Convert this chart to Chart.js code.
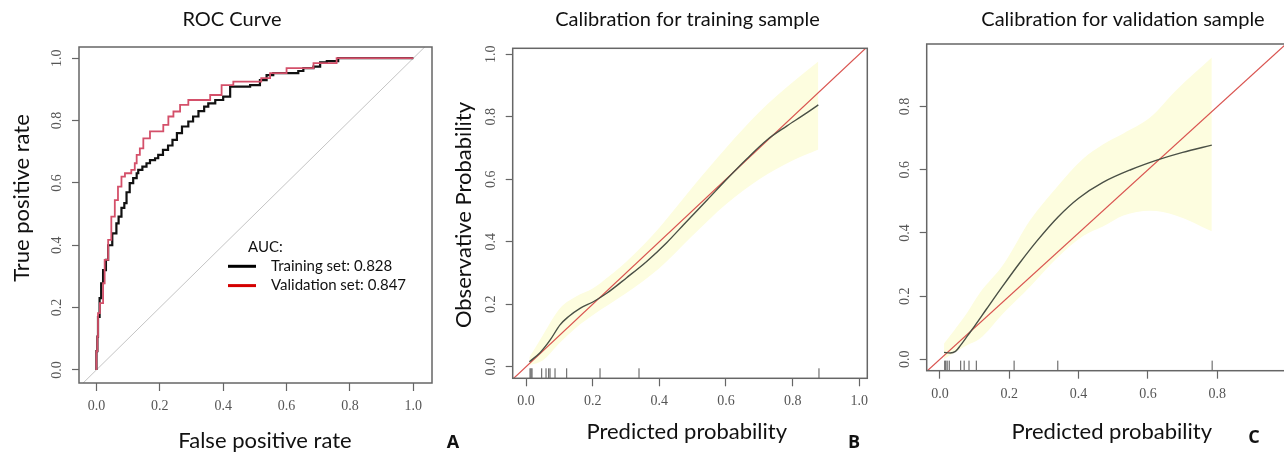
<!DOCTYPE html>
<html>
<head>
<meta charset="utf-8">
<script src="https://cdn.jsdelivr.net/npm/chart.js@4.4.1/dist/chart.umd.min.js"></script>
<style>
  html, body { margin: 0; padding: 0; background: #fff; overflow: hidden; }
  #wrap { position: relative; width: 1284px; height: 454px; overflow: hidden; }
  canvas { position: absolute; top: 0; }
</style>
</head>
<body>
<div id="wrap">
  <canvas id="rocChart" width="470" height="454" style="left:0px"></canvas>
  <canvas id="calTrainChart" width="440" height="454" style="left:440px"></canvas>
  <canvas id="calValidChart" width="450" height="454" style="left:870px"></canvas>
</div>
<script>
// ---- panel A: ROC curves (each point = start of a flat step) ----
const trainFpr = [0, 0.003, 0.005, 0.01, 0.015, 0.021, 0.03, 0.037, 0.05, 0.063, 0.07, 0.079, 0.088, 0.095, 0.105, 0.116, 0.127, 0.132, 0.145, 0.158, 0.169, 0.185, 0.195, 0.21, 0.226, 0.24, 0.254, 0.27, 0.29, 0.305, 0.322, 0.34, 0.353, 0.375, 0.40, 0.422, 0.485, 0.516, 0.537, 0.558, 0.637, 0.653, 0.685, 0.706, 0.727, 0.763, 0.937, 1.0];
const trainTpr = [0, 0.06, 0.107, 0.17, 0.23, 0.278, 0.32, 0.353, 0.40, 0.438, 0.47, 0.492, 0.52, 0.535, 0.57, 0.599, 0.615, 0.631, 0.642, 0.652, 0.663, 0.673, 0.679, 0.69, 0.706, 0.72, 0.738, 0.76, 0.781, 0.797, 0.813, 0.83, 0.845, 0.855, 0.866, 0.877, 0.909, 0.914, 0.930, 0.946, 0.952, 0.959, 0.968, 0.973, 0.987, 0.991, 1.0, 1.0];
const validFpr = [0, 0.003, 0.005, 0.011, 0.021, 0.026, 0.037, 0.047, 0.058, 0.068, 0.079, 0.09, 0.11, 0.121, 0.127, 0.137, 0.148, 0.169, 0.211, 0.227, 0.243, 0.264, 0.29, 0.359, 0.395, 0.432, 0.52, 0.548, 0.60, 0.685, 0.758, 0.984, 1.0];
const validTpr = [0, 0.06, 0.107, 0.182, 0.214, 0.278, 0.353, 0.417, 0.492, 0.545, 0.588, 0.62, 0.631, 0.642, 0.663, 0.69, 0.711, 0.743, 0.765, 0.786, 0.813, 0.829, 0.85, 0.866, 0.882, 0.914, 0.925, 0.936, 0.952, 0.968, 0.984, 1.0, 1.0];
const aucLabels = ['Training set: 0.828', 'Validation set: 0.847'];
const refLine = [-0.2, 1.2];

// ---- panel B: calibration for training sample ----
const calTrainX = [0.01, 0.042, 0.072, 0.102, 0.127, 0.162, 0.202, 0.242, 0.302, 0.362, 0.422, 0.482, 0.542, 0.602, 0.662, 0.722, 0.782, 0.832, 0.877];
const calTrainY = [0.016, 0.045, 0.085, 0.134, 0.16, 0.187, 0.208, 0.235, 0.285, 0.337, 0.397, 0.465, 0.532, 0.6, 0.665, 0.725, 0.77, 0.805, 0.838];
const bandTrainX = [0.01, 0.05, 0.1, 0.15, 0.2, 0.25, 0.3, 0.4, 0.5, 0.6, 0.7, 0.8, 0.877];
const bandTrainUpper = [0.03, 0.10, 0.185, 0.225, 0.25, 0.29, 0.335, 0.445, 0.575, 0.70, 0.815, 0.91, 0.977];
const bandTrainLower = [0.005, 0.02, 0.075, 0.125, 0.165, 0.20, 0.235, 0.315, 0.42, 0.52, 0.60, 0.66, 0.695];
const rugTrain = [0.012, 0.015, 0.018, 0.047, 0.06, 0.068, 0.072, 0.087, 0.122, 0.222, 0.339, 0.879];

// ---- panel C: calibration for validation sample ----
const calValidX = [0.012, 0.03, 0.045, 0.06, 0.08, 0.1, 0.135, 0.18, 0.23, 0.28, 0.34, 0.4, 0.47, 0.55, 0.63, 0.7, 0.784];
const calValidY = [0.022, 0.02, 0.025, 0.045, 0.075, 0.105, 0.16, 0.23, 0.305, 0.375, 0.45, 0.51, 0.56, 0.60, 0.632, 0.655, 0.678];
const bandValidX = [0.012, 0.04, 0.08, 0.115, 0.183, 0.26, 0.337, 0.413, 0.47, 0.529, 0.606, 0.68, 0.784];
const bandValidUpper = [0.05, 0.09, 0.15, 0.21, 0.30, 0.44, 0.545, 0.635, 0.68, 0.715, 0.765, 0.85, 0.955];
const bandValidLower = [0.0, 0.02, 0.045, 0.065, 0.146, 0.23, 0.32, 0.39, 0.42, 0.455, 0.47, 0.455, 0.405];
const rugValid = [0.014, 0.017, 0.021, 0.027, 0.06, 0.07, 0.084, 0.105, 0.214, 0.34, 0.785];

const tickValues = [0, 0.2, 0.4, 0.6, 0.8, 1.0];

function pts(xs, ys) {
    return xs.map((x, i) => ({ x: x, y: ys[i] }))
}

// text drawn at fixed spots of each panel (titles, axis names, letters)
const panelText = {
    id: 'panelText',
    afterDraw(chart, args, opts) {
        const ctx = chart.ctx;
        (opts.items || []).forEach(it => {
            ctx.save();
            ctx.font = (it.bold ? 'bold ' : '') + it.size + 'px ' + (it.family || 'Lato');
            ctx.fillStyle = it.color || '#111';
            ctx.textAlign = it.align || 'center';
            ctx.textBaseline = 'middle';
            ctx.translate(it.x, it.y);
            if (it.rotate) ctx.rotate(it.rotate * Math.PI / 180);
            ctx.fillText(it.text, 0, 0);
            ctx.restore();
        });
    }
};

// R style box round the plot region
const plotBox = {
    id: 'plotBox',
    afterDatasetsDraw(chart) {
        const a = chart.chartArea;
        const ctx = chart.ctx;
        ctx.save();
        ctx.strokeStyle = '#666';
        ctx.lineWidth = 1.5;
        ctx.strokeRect(a.left, a.top, a.right - a.left, a.bottom - a.top);
        ctx.restore();
    }
};

// legend inside the ROC plot
const aucLegend = {
    id: 'aucLegend',
    afterDraw(chart, args, o) {
        if (!o.title) return;
        const ctx = chart.ctx;
        ctx.save();
        ctx.font = '15px Lato';
        ctx.textBaseline = 'middle';
        ctx.fillStyle = '#111';
        ctx.fillText(o.title, o.x + 20, o.y);
        chart.data.datasets.filter(d => d.keyColor).forEach((d, i) => {
            const y = o.y + o.gap * (i + 1);
            ctx.strokeStyle = d.keyColor;
            ctx.lineWidth = 3;
            ctx.beginPath();
            ctx.moveTo(o.x, y);
            ctx.lineTo(o.x + 28, y);
            ctx.stroke();
            ctx.fillText(d.label, o.x + 43, y);
        });
        ctx.restore();
    }
};

function xAxis(min, max, height, maxTick) {
    return {
        type: 'linear', min: min, max: max,
        afterBuildTicks: s => { s.ticks = tickValues.filter(v => v <= maxTick).map(v => ({ value: v })) },
        afterFit: s => { s.height = height },
        grid: { drawOnChartArea: false, drawTicks: true, tickLength: 8, tickColor: '#666', tickWidth: 1.2 },
        border: { display: false },
        ticks: {
            color: '#555', padding: 7,
            font: { family: 'Liberation Serif', size: 14 },
            maxRotation: 0, minRotation: 0,
            callback: v => v.toFixed(1)
        }
    }
}

function yAxis(min, max, width, maxTick) {
    return {
        type: 'linear', min: min, max: max,
        afterBuildTicks: s => { s.ticks = tickValues.filter(v => v <= maxTick).map(v => ({ value: v })) },
        afterFit: s => { s.width = width },
        grid: { drawOnChartArea: false, drawTicks: true, tickLength: 7, tickColor: '#666', tickWidth: 1.2 },
        border: { display: false },
        ticks: {
            color: '#555', padding: 6, crossAlign: 'center',
            font: { family: 'Liberation Serif', size: 14 },
            minRotation: 90, maxRotation: 90,
            callback: v => v.toFixed(1)
        }
    }
}

function baseOptions(padding, scales, items) {
    return {
        responsive: false,
        animation: false,
        events: [],
        layout: { padding: padding },
        scales: scales,
        plugins: {
            legend: { display: false },
            tooltip: { enabled: false },
            panelText: { items: items }
        }
    }
}

// panel A
const rocOptions = baseOptions(
    { left: 0, top: 47, right: 38, bottom: 0 },
    { x: xAxis(-0.055, 1.059, 71, 1), y: yAxis(-0.042, 1.036, 79, 1) },
    [
        { text: 'ROC Curve', x: 232, y: 20, size: 20 },
        { text: 'True positive rate', x: 22, y: 198, size: 22, rotate: -90 },
        { text: 'False positive rate', x: 265, y: 441, size: 22 },
        { text: 'A', x: 453, y: 443, size: 18, bold: true, family: 'Open Sans' }
    ]
);
rocOptions.plugins.aucLegend = { title: 'AUC:', x: 228, y: 247, gap: 19.3 };

new Chart(document.getElementById('rocChart'), {
    type: 'line',
    data: {
        datasets: [
            {
                label: aucLabels[0], data: pts(trainFpr, trainTpr), stepped: 'after',
                borderColor: '#111', borderWidth: 2.2, pointRadius: 0, keyColor: '#000', order: 1
            },
            {
                label: aucLabels[1], data: pts(validFpr, validTpr), stepped: 'after',
                borderColor: '#d4506a', borderWidth: 1.8, pointRadius: 0, keyColor: '#d40000', order: 0
            },
            {
                label: 'reference', data: pts(refLine, refLine),
                borderColor: '#c4c4c4', borderWidth: 1, pointRadius: 0, order: 2
            }
        ]
    },
    options: rocOptions,
    plugins: [panelText, plotBox, aucLegend]
});

// calibration panel
function buildCalibration(canvasId, curveX, curveY, bandX, upper, lower, rug, yMin, options) {
    new Chart(document.getElementById(canvasId), {
        type: 'line',
        data: {
            datasets: [
                {
                    label: 'calibration', data: pts(curveX, curveY), cubicInterpolationMode: 'monotone',
                    borderColor: '#4a5046', borderWidth: 1.4, pointRadius: 0
                },
                {
                    label: 'ideal', data: pts(refLine, refLine),
                    borderColor: '#d9534f', borderWidth: 1.2, pointRadius: 0
                },
                {
                    type: 'scatter', label: 'rug', data: rug.map(x => ({ x: x, y: yMin + 0.016 })),
                    pointStyle: 'line', rotation: 90, pointRadius: 5, borderColor: '#555', borderWidth: 1
                },
                {
                    label: 'upper', data: pts(bandX, upper), cubicInterpolationMode: 'monotone',
                    borderWidth: 0, pointRadius: 0, fill: '+1', backgroundColor: '#fdfddf'
                },
                {
                    label: 'lower', data: pts(bandX, lower), cubicInterpolationMode: 'monotone',
                    borderWidth: 0, pointRadius: 0, fill: false
                }
            ]
        },
        options: options,
        plugins: [panelText, plotBox]
    });
}

// panel B
buildCalibration('calTrainChart', calTrainX, calTrainY, bandTrainX, bandTrainUpper, bandTrainLower, rugTrain, -0.037,
    baseOptions(
        { left: 0, top: 48.3, right: 12.7, bottom: 0 },
        { x: xAxis(-0.04, 1.024, 75.7, 1), y: yAxis(-0.037, 1.019, 72.7, 1) },
        [
            { text: 'Calibration for training sample', x: 247.5, y: 20, size: 20 },
            { text: 'Observative Probability', x: 24, y: 215, size: 22, rotate: -90 },
            { text: 'Predicted probability', x: 246.7, y: 432, size: 22 },
            { text: 'B', x: 414, y: 443, size: 18, bold: true, family: 'Open Sans' }
        ]
    ));

// panel C
buildCalibration('calValidChart', calValidX, calValidY, bandValidX, bandValidUpper, bandValidLower, rugValid, -0.036,
    baseOptions(
        { left: 0, top: 44, right: 19.4, bottom: 0 },
        { x: xAxis(-0.038, 1.04, 83.3, 0.8), y: yAxis(-0.036, 0.998, 56.7, 0.8) },
        [
            { text: 'Calibration for validation sample', x: 253, y: 20, size: 20 },
            { text: 'Predicted probability', x: 241.7, y: 432, size: 22 },
            { text: 'C', x: 384, y: 438, size: 18, bold: true, family: 'Open Sans' }
        ]
    ));
</script>
</body>
</html>
